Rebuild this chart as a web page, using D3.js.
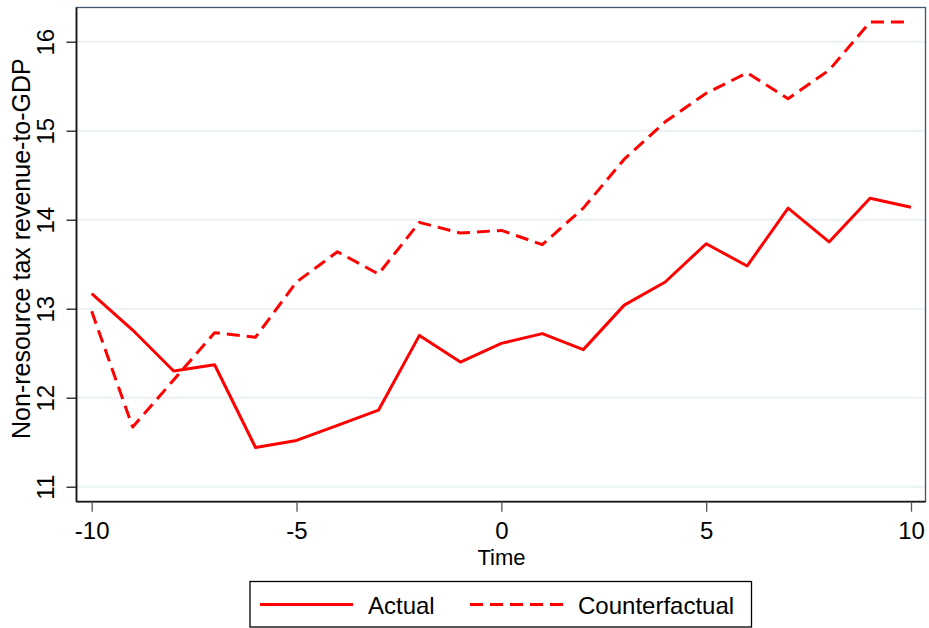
<!DOCTYPE html>
<html>
<head>
<meta charset="utf-8">
<script src="https://cdn.jsdelivr.net/npm/d3@7"></script>
<style>
  html, body { margin: 0; padding: 0; background: #fff; }
  svg { display: block; font-family: "Liberation Sans", Arial, sans-serif; }
</style>
</head>
<body>
<svg id="chart" width="929" height="628"></svg>
<script>
const time = [-10,-9,-8,-7,-6,-5,-4,-3,-2,-1,0,1,2,3,4,5,6,7,8,9,10];
const actual = [13.17,12.76,12.30,12.37,11.44,11.52,11.69,11.86,12.70,12.40,12.61,12.72,12.54,13.04,13.30,13.73,13.48,14.13,13.75,14.24,14.14];
const counterfactual = [12.97,11.67,12.20,12.73,12.68,13.30,13.64,13.39,13.97,13.85,13.88,13.72,14.13,14.68,15.10,15.42,15.65,15.36,15.68,16.22,16.22];
const xTicks = [-10,-5,0,5,10];
const yTicks = [11,12,13,14,15,16];
const seriesNames = ["Actual","Counterfactual"];

const svg = d3.select("#chart");
const frame = {left: 76.5, right: 925.5, top: 7.5, bottom: 501.7};
const fs = 24;
const fmt = d => String(d); // hyphen-minus like the reference

const x = d3.scaleLinear().domain([-10,10]).range([91.7, 911]);
const y = d3.scaleLinear().domain([11,16]).range([486.7, 41.7]);

svg.append("rect")
  .attr("x", frame.left).attr("y", frame.top)
  .attr("width", frame.right - frame.left).attr("height", frame.bottom - frame.top)
  .attr("fill", "#fff");

svg.append("g").selectAll("line").data(yTicks).join("line")
  .attr("x1", frame.left).attr("x2", frame.right)
  .attr("y1", d => y(d)).attr("y2", d => y(d))
  .attr("stroke", "#eaf2f3").attr("stroke-width", 2);

svg.append("rect")
  .attr("x", frame.left).attr("y", frame.top)
  .attr("width", frame.right - frame.left).attr("height", frame.bottom - frame.top)
  .attr("fill", "none").attr("stroke", "#3d5670").attr("stroke-width", 1.3);

const yAxis = d3.axisLeft(y).tickValues(yTicks).tickSize(10).tickPadding(0).tickFormat(fmt);
const gy = svg.append("g").attr("transform", `translate(${frame.left},0)`).call(yAxis);
gy.select(".domain").attr("d", `M0,${frame.top}V${frame.bottom}`).attr("stroke", "#1a1a1a").attr("stroke-width", 1.8);
gy.selectAll(".tick line").attr("stroke", "#1a1a1a").attr("stroke-width", 1.3);
gy.selectAll(".tick text")
  .attr("font-size", fs).attr("fill", "#000")
  .attr("transform", "rotate(-90)")
  .attr("x", 0).attr("y", -23)
  .attr("dy", 0)
  .attr("text-anchor", "middle");

const xAxis = d3.axisBottom(x).tickValues(xTicks).tickSize(10).tickPadding(0).tickFormat(fmt);
const gx = svg.append("g").attr("transform", `translate(0,${frame.bottom})`).call(xAxis);
gx.select(".domain").attr("d", `M${frame.left},0H${frame.right}`).attr("stroke", "#1a1a1a").attr("stroke-width", 1.8);
gx.selectAll(".tick line").attr("stroke", "#555").attr("stroke-width", 1.3);
gx.selectAll(".tick text")
  .attr("font-size", fs).attr("fill", "#000")
  .attr("y", 37.3).attr("dy", 0);

svg.append("text")
  .attr("x", 501.5).attr("y", 564.5)
  .attr("text-anchor", "middle").attr("font-size", 22).attr("fill", "#000")
  .text("Time");
svg.append("text")
  .attr("transform", `translate(30,${(frame.top + frame.bottom)/2 - 6}) rotate(-90)`)
  .attr("text-anchor", "middle").attr("font-size", 25).attr("fill", "#000")
  .text("Non-resource tax revenue-to-GDP");

const line = d3.line().x((d,i) => x(time[i])).y(d => y(d));
svg.append("path").datum(actual)
  .attr("d", line).attr("fill", "none").attr("stroke", "#ff0000")
  .attr("stroke-width", 3).attr("stroke-linejoin", "round");
svg.append("path").datum(counterfactual)
  .attr("d", line).attr("fill", "none").attr("stroke", "#ff0000")
  .attr("stroke-width", 3).attr("stroke-dasharray", "13,7").attr("stroke-linejoin", "round");

const lg = svg.append("g");
lg.append("rect").attr("x", 250).attr("y", 581.5).attr("width", 501.5).attr("height", 45.5)
  .attr("fill", "#fff").attr("stroke", "#000").attr("stroke-width", 1.3);
const items = [
  {name: seriesNames[0], x0: 260, x1: 353, tx: 368, dash: null},
  {name: seriesNames[1], x0: 470, x1: 563, tx: 578, dash: "13,7"}
];
items.forEach(it => {
  const l = lg.append("line").attr("x1", it.x0).attr("x2", it.x1)
    .attr("y1", 604.5).attr("y2", 604.5)
    .attr("stroke", "#ff0000").attr("stroke-width", 3);
  if (it.dash) l.attr("stroke-dasharray", it.dash);
  lg.append("text").attr("x", it.tx).attr("y", 613.5).attr("font-size", fs).attr("fill", "#000").text(it.name);
});
</script>
</body>
</html>
